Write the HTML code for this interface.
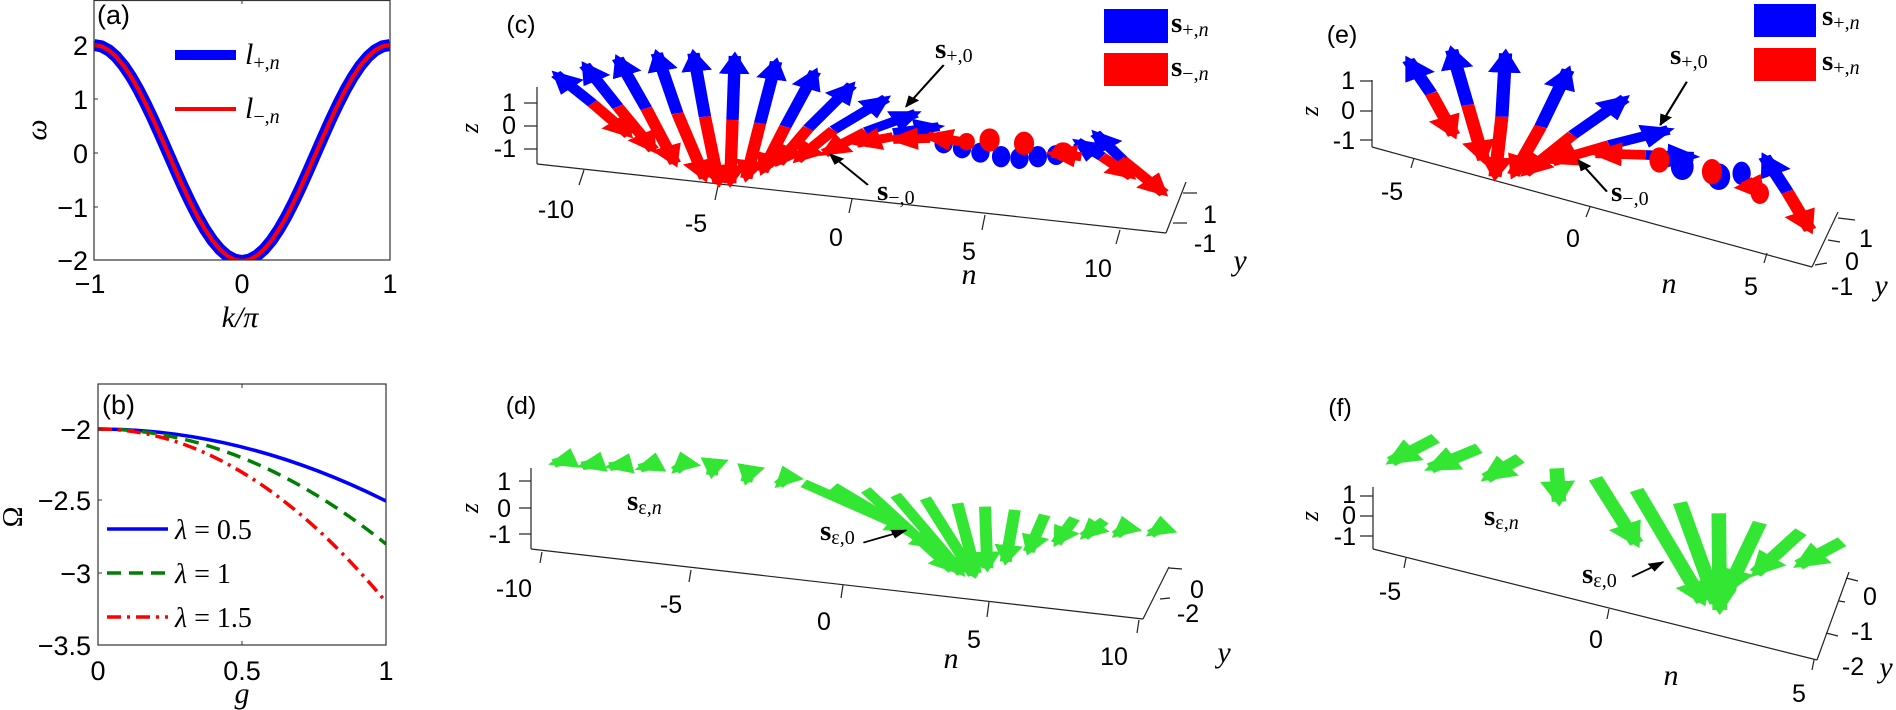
<!DOCTYPE html>
<html><head><meta charset="utf-8"><style>
html,body{margin:0;padding:0;background:#fff;}
svg{display:block;}
.tk{font-family:"Liberation Sans",sans-serif;font-size:27px;fill:#000;}
.tk3{font-family:"Liberation Sans",sans-serif;font-size:25px;fill:#000;}
.it{font-family:"Liberation Serif",serif;font-style:italic;fill:#000;}
.sv{font-family:"Liberation Serif",serif;fill:#000;}
</style></head><body>
<svg width="1896" height="710" viewBox="0 0 1896 710" xmlns="http://www.w3.org/2000/svg">
<defs>
<marker id="hb" viewBox="0 0 10 10" refX="8" refY="5" markerWidth="2.5" markerHeight="2.5" orient="auto"><path d="M0,0 L10,5 L0,10z" fill="#0000ff"/></marker>
<marker id="hr" viewBox="0 0 10 10" refX="8" refY="5" markerWidth="2.5" markerHeight="2.5" orient="auto"><path d="M0,0 L10,5 L0,10z" fill="#ff0000"/></marker>
<marker id="hg" viewBox="0 0 10 10" refX="8" refY="5" markerWidth="2.4" markerHeight="2.4" orient="auto"><path d="M0,0 L10,5 L0,10z" fill="#33e633"/></marker>
<marker id="hk" viewBox="0 0 10 10" refX="9" refY="5" markerWidth="7" markerHeight="7" orient="auto"><path d="M0,1 L10,5 L0,9z" fill="#000"/></marker>
<clipPath id="ca"><rect x="94" y="0" width="296" height="260"/></clipPath>
<clipPath id="cb"><rect x="98" y="384" width="288" height="261"/></clipPath>
</defs>

<!-- Panel (a) -->
<g clip-path="url(#ca)" fill="none" stroke-linejoin="round">
<polyline stroke="#0000ff" stroke-width="12" points="94,45 101.4,46.3 108.8,50.3 116.2,56.8 123.6,65.6 131,76.6 138.4,89.5 145.8,104 153.2,119.6 160.6,136.1 168,153 175.4,169.9 182.8,186.4 190.2,202 197.6,216.5 205,229.4 212.4,240.4 219.8,249.2 227.2,255.7 234.6,259.7 242,261 249.4,259.7 256.8,255.7 264.2,249.2 271.6,240.4 279,229.4 286.4,216.5 293.8,202 301.2,186.4 308.6,169.9 316,153 323.4,136.1 330.8,119.6 338.2,104 345.6,89.5 353,76.6 360.4,65.6 367.8,56.8 375.2,50.3 382.6,46.3 390,45"/>
<polyline stroke="#ff0000" stroke-width="4" points="94,45 101.4,46.3 108.8,50.3 116.2,56.8 123.6,65.6 131,76.6 138.4,89.5 145.8,104 153.2,119.6 160.6,136.1 168,153 175.4,169.9 182.8,186.4 190.2,202 197.6,216.5 205,229.4 212.4,240.4 219.8,249.2 227.2,255.7 234.6,259.7 242,261 249.4,259.7 256.8,255.7 264.2,249.2 271.6,240.4 279,229.4 286.4,216.5 293.8,202 301.2,186.4 308.6,169.9 316,153 323.4,136.1 330.8,119.6 338.2,104 345.6,89.5 353,76.6 360.4,65.6 367.8,56.8 375.2,50.3 382.6,46.3 390,45"/>
</g>
<rect x="94" y="0.5" width="296" height="259.5" fill="none" stroke="#333" stroke-width="1.2"/>
<g stroke="#333" stroke-width="1">
<line x1="94" y1="45" x2="98" y2="45"/><line x1="94" y1="99" x2="98" y2="99"/><line x1="94" y1="153" x2="98" y2="153"/><line x1="94" y1="207" x2="98" y2="207"/>
<line x1="242" y1="260" x2="242" y2="256"/><line x1="242" y1="0" x2="242" y2="4"/>
</g>
<text class="tk" x="97" y="24">(a)</text>
<g class="tk" text-anchor="end">
<text x="88" y="55">2</text><text x="88" y="109">1</text><text x="88" y="163">0</text><text x="88" y="217">−1</text><text x="88" y="270">−2</text>
</g>
<g class="tk" text-anchor="middle"><text x="90" y="293">−1</text><text x="242" y="293">0</text><text x="390" y="293">1</text></g>
<text class="it" font-size="30" x="240" y="327" text-anchor="middle">k/π</text>
<text class="it" font-size="30" transform="translate(46,130) rotate(-90)" text-anchor="middle">ω</text>
<line x1="175" y1="55" x2="236" y2="55" stroke="#0000ff" stroke-width="10"/>
<line x1="175" y1="109" x2="236" y2="109" stroke="#ff0000" stroke-width="4"/>
<text class="it" font-size="30" x="245" y="64">l<tspan font-size="20" dy="5" font-style="normal">+,</tspan><tspan font-size="20">n</tspan></text>
<text class="it" font-size="30" x="245" y="118">l<tspan font-size="20" dy="5" font-style="normal">−,</tspan><tspan font-size="20">n</tspan></text>

<!-- Panel (b) -->
<g clip-path="url(#cb)" fill="none" stroke-width="3.5">
<path d="M98,429 Q242,429 386,501" stroke="#0000ff"/>
<path d="M98,429 Q242,429 386,544" stroke="#008000" stroke-dasharray="14,8"/>
<path d="M98,429 Q242,429 386,602" stroke="#ff0000" stroke-dasharray="14,6,3,6"/>
</g>
<rect x="98" y="384" width="288" height="261" fill="none" stroke="#333" stroke-width="1.2"/>
<g stroke="#333" stroke-width="1">
<line x1="98" y1="429" x2="102" y2="429"/><line x1="98" y1="500" x2="102" y2="500"/><line x1="98" y1="573" x2="102" y2="573"/>
<line x1="242" y1="645" x2="242" y2="641"/><line x1="242" y1="384" x2="242" y2="388"/>
</g>
<text class="tk" x="102" y="414">(b)</text>
<g class="tk" text-anchor="end">
<text x="91" y="439">−2</text><text x="91" y="510">−2.5</text><text x="91" y="583">−3</text><text x="91" y="655">−3.5</text>
</g>
<g class="tk" text-anchor="middle"><text x="98" y="680">0</text><text x="242" y="680">0.5</text><text x="386" y="680">1</text></g>
<text class="it" font-size="30" x="242" y="703" text-anchor="middle">g</text>
<text class="sv" font-size="28" transform="translate(22,517) rotate(-90)" text-anchor="middle">Ω</text>
<line x1="107" y1="529" x2="168" y2="529" stroke="#0000ff" stroke-width="3.5"/>
<line x1="107" y1="573" x2="168" y2="573" stroke="#008000" stroke-width="3.5" stroke-dasharray="14,8"/>
<line x1="107" y1="617" x2="168" y2="617" stroke="#ff0000" stroke-width="3.5" stroke-dasharray="14,6,3,6"/>
<text class="sv" font-size="28" x="175" y="539"><tspan font-style="italic">λ</tspan> = 0.5</text>
<text class="sv" font-size="28" x="175" y="583"><tspan font-style="italic">λ</tspan> = 1</text>
<text class="sv" font-size="28" x="175" y="627"><tspan font-style="italic">λ</tspan> = 1.5</text>

<!-- Panel (c) axes -->
<g stroke="#222" stroke-width="1.2" fill="none">
<line x1="537" y1="87" x2="537" y2="164"/>
<line x1="524" y1="103" x2="537" y2="103"/><line x1="524" y1="126" x2="537" y2="126"/><line x1="524" y1="149" x2="537" y2="149"/>
<line x1="537" y1="164" x2="1166" y2="233"/>
<line x1="1166" y1="233" x2="1186" y2="182"/>
<line x1="1173" y1="223" x2="1187" y2="223"/><line x1="1183" y1="193" x2="1197" y2="193"/>
<line x1="579" y1="185" x2="584" y2="170"/><line x1="715" y1="200" x2="718" y2="186"/><line x1="849" y1="213" x2="852" y2="199"/><line x1="982" y1="230" x2="985" y2="215"/><line x1="1116" y1="244" x2="1120" y2="230"/>
</g>
<text class="tk3" x="521" y="33" font-size="22" text-anchor="middle">(c)</text>
<g class="tk3" text-anchor="end"><text x="516" y="111">1</text><text x="516" y="134">0</text><text x="516" y="157">-1</text></g>
<text class="it" font-size="26" transform="translate(478,128) rotate(-90)" text-anchor="middle">z</text>
<g class="tk3" text-anchor="middle"><text x="556" y="218">-10</text><text x="696" y="232">-5</text><text x="836" y="246">0</text><text x="969" y="260">5</text><text x="1098" y="277">10</text><text x="1210" y="223">1</text><text x="1205" y="252">-1</text></g>
<text class="it" font-size="30" x="969" y="284" text-anchor="middle">n</text>
<text class="it" font-size="30" x="1240" y="270" text-anchor="middle">y</text>
<rect x="1104" y="9" width="64" height="34" fill="#0000ff"/>
<rect x="1104" y="53" width="64" height="33" fill="#ff0000"/>
<text class="sv" font-size="29" font-weight="bold" x="1171" y="32">s<tspan font-size="20" font-weight="normal" dy="4">+,</tspan><tspan font-size="20" font-weight="normal" font-style="italic">n</tspan></text>
<text class="sv" font-size="29" font-weight="bold" x="1171" y="76">s<tspan font-size="20" font-weight="normal" dy="4">−,</tspan><tspan font-size="20" font-weight="normal" font-style="italic">n</tspan></text>
<text class="sv" font-size="29" font-weight="bold" x="935" y="58">s<tspan font-size="20" font-weight="normal" dy="4">+,0</tspan></text>
<text class="sv" font-size="29" font-weight="bold" x="877" y="200">s<tspan font-size="20" font-weight="normal" dy="4">−,0</tspan></text>

<g transform="translate(480,0) scale(0.4591,0.3333)" fill="none" stroke-width="27">
<g stroke="#0000ff" marker-end="url(#hb)">
<line x1="245" y1="310" x2="165" y2="222"/><line x1="300" y1="320" x2="228" y2="195"/><line x1="362" y1="325" x2="300" y2="175"/><line x1="430" y1="340" x2="385" y2="160"/><line x1="490" y1="350" x2="465" y2="160"/><line x1="550" y1="360" x2="555" y2="168"/><line x1="610" y1="370" x2="645" y2="185"/><line x1="665" y1="380" x2="730" y2="215"/><line x1="715" y1="385" x2="810" y2="255"/><line x1="770" y1="390" x2="885" y2="295"/><line x1="840" y1="395" x2="950" y2="340"/><line x1="900" y1="398" x2="1000" y2="380"/>
<line x1="1355" y1="470" x2="1300" y2="425"/><line x1="1400" y1="480" x2="1340" y2="400"/>
</g>
<g fill="#0000ff" stroke="none">
<ellipse cx="1050" cy="445" rx="20" ry="30"/><ellipse cx="1090" cy="458" rx="20" ry="30"/><ellipse cx="1135" cy="470" rx="20" ry="32"/><ellipse cx="1175" cy="475" rx="20" ry="32"/><ellipse cx="1215" cy="470" rx="20" ry="32"/><ellipse cx="1255" cy="465" rx="20" ry="30"/><ellipse cx="1010" cy="430" rx="20" ry="30"/>
</g>
<g stroke="#ff0000" marker-end="url(#hr)">
<line x1="245" y1="310" x2="325" y2="405"/><line x1="300" y1="320" x2="378" y2="450"/><line x1="362" y1="325" x2="425" y2="490"/><line x1="430" y1="340" x2="490" y2="535"/><line x1="490" y1="350" x2="520" y2="550"/><line x1="550" y1="360" x2="545" y2="550"/><line x1="610" y1="370" x2="580" y2="535"/><line x1="665" y1="380" x2="615" y2="515"/><line x1="715" y1="385" x2="650" y2="490"/><line x1="770" y1="390" x2="690" y2="480"/><line x1="840" y1="395" x2="750" y2="460"/><line x1="900" y1="410" x2="820" y2="430"/>
<line x1="980" y1="415" x2="900" y2="418"/><line x1="1050" y1="425" x2="975" y2="408"/><line x1="1310" y1="470" x2="1245" y2="460"/>
<line x1="1355" y1="470" x2="1420" y2="530"/><line x1="1400" y1="480" x2="1490" y2="580"/>
</g>
<g fill="#ff0000" stroke="none">
<ellipse cx="1110" cy="420" rx="22" ry="35"/><ellipse cx="1185" cy="430" rx="22" ry="35"/><ellipse cx="1270" cy="455" rx="22" ry="28"/><ellipse cx="1060" cy="425" rx="18" ry="26"/>
</g>
<g stroke="#000" stroke-width="5" marker-end="url(#hk)">
<line x1="1010" y1="195" x2="928" y2="320"/><line x1="845" y1="555" x2="762" y2="462"/>
</g>
</g>

<!-- Panel (e) axes -->
<g stroke="#222" stroke-width="1.2" fill="none">
<line x1="1372" y1="80" x2="1372" y2="147"/>
<line x1="1360" y1="81" x2="1372" y2="81"/><line x1="1360" y1="111" x2="1372" y2="111"/><line x1="1360" y1="140" x2="1372" y2="140"/>
<line x1="1372" y1="147" x2="1812" y2="267"/>
<line x1="1812" y1="267" x2="1838" y2="212"/>
<line x1="1815" y1="265" x2="1827" y2="263"/><line x1="1828" y1="240" x2="1840" y2="242"/><line x1="1838" y1="218" x2="1855" y2="220"/>
<line x1="1411" y1="168" x2="1414" y2="158"/><line x1="1586" y1="217" x2="1590" y2="207"/><line x1="1764" y1="263" x2="1767" y2="253"/>
</g>
<text class="tk3" x="1342" y="43" font-size="22" text-anchor="middle">(e)</text>
<g class="tk3" text-anchor="end"><text x="1355" y="89">1</text><text x="1355" y="119">0</text><text x="1355" y="149">-1</text></g>
<text class="it" font-size="26" transform="translate(1318,111) rotate(-90)" text-anchor="middle">z</text>
<g class="tk3" text-anchor="middle"><text x="1392" y="200">-5</text><text x="1573" y="247">0</text><text x="1751" y="295">5</text><text x="1866" y="247">1</text><text x="1852" y="270">0</text><text x="1842" y="295">-1</text></g>
<text class="it" font-size="30" x="1669" y="293" text-anchor="middle">n</text>
<text class="it" font-size="30" x="1881" y="295" text-anchor="middle">y</text>
<rect x="1754" y="4" width="62" height="33" fill="#0000ff"/>
<rect x="1754" y="48" width="62" height="33" fill="#ff0000"/>
<text class="sv" font-size="29" font-weight="bold" x="1822" y="25">s<tspan font-size="20" font-weight="normal" dy="4">+,</tspan><tspan font-size="20" font-weight="normal" font-style="italic">n</tspan></text>
<text class="sv" font-size="29" font-weight="bold" x="1822" y="70">s<tspan font-size="20" font-weight="normal" dy="4">+,</tspan><tspan font-size="20" font-weight="normal" font-style="italic">n</tspan></text>
<text class="sv" font-size="29" font-weight="bold" x="1670" y="64">s<tspan font-size="20" font-weight="normal" dy="4">+,0</tspan></text>
<text class="sv" font-size="29" font-weight="bold" x="1611" y="201">s<tspan font-size="20" font-weight="normal" dy="4">−,0</tspan></text>

<g transform="translate(1180,0) scale(0.4566,0.3333)" fill="none" stroke-width="29">
<g stroke="#0000ff" marker-end="url(#hb)">
<line x1="550" y1="280" x2="500" y2="180"/><line x1="630" y1="315" x2="595" y2="150"/><line x1="705" y1="350" x2="713" y2="160"/><line x1="790" y1="380" x2="850" y2="210"/><line x1="860" y1="405" x2="975" y2="295"/><line x1="940" y1="435" x2="1070" y2="390"/><line x1="1020" y1="465" x2="1125" y2="470"/>
<line x1="1330" y1="575" x2="1280" y2="470"/>
</g>
<g fill="#0000ff" stroke="none">
<ellipse cx="1100" cy="500" rx="25" ry="40"/><ellipse cx="1180" cy="530" rx="25" ry="40"/><ellipse cx="1230" cy="520" rx="20" ry="35"/>
</g>
<g stroke="#ff0000" marker-end="url(#hr)">
<line x1="550" y1="280" x2="600" y2="405"/><line x1="630" y1="315" x2="665" y2="480"/><line x1="705" y1="350" x2="690" y2="530"/><line x1="790" y1="380" x2="730" y2="525"/><line x1="860" y1="405" x2="755" y2="520"/><line x1="940" y1="435" x2="815" y2="485"/><line x1="1020" y1="465" x2="910" y2="460"/>
<line x1="1330" y1="575" x2="1380" y2="690"/><line x1="1240" y1="540" x2="1275" y2="590"/>
</g>
<g fill="#ff0000" stroke="none">
<ellipse cx="1050" cy="480" rx="22" ry="38"/><ellipse cx="1165" cy="515" rx="22" ry="38"/><ellipse cx="1270" cy="580" rx="20" ry="32"/>
</g>
<g stroke="#000" stroke-width="5" marker-end="url(#hk)">
<line x1="1110" y1="245" x2="1052" y2="375"/><line x1="935" y1="575" x2="872" y2="480"/>
</g>
</g>

<!-- Panel (d) axes -->
<g stroke="#222" stroke-width="1.2" fill="none">
<line x1="531" y1="468" x2="531" y2="549"/>
<line x1="519" y1="481" x2="531" y2="481"/><line x1="519" y1="508" x2="531" y2="508"/><line x1="519" y1="534" x2="531" y2="534"/>
<line x1="531" y1="549" x2="1143" y2="619"/>
<line x1="1143" y1="619" x2="1169" y2="567"/>
<line x1="1160" y1="599" x2="1170" y2="598"/><line x1="1169" y1="568" x2="1182" y2="569"/>
<line x1="542" y1="552" x2="540" y2="563"/><line x1="691" y1="570" x2="689" y2="582"/><line x1="843" y1="585" x2="841" y2="598"/><line x1="989" y1="602" x2="987" y2="617"/><line x1="1139" y1="620" x2="1137" y2="633"/>
</g>
<text class="tk3" x="521" y="414" font-size="22" text-anchor="middle">(d)</text>
<g class="tk3" text-anchor="end"><text x="511" y="490">1</text><text x="511" y="517">0</text><text x="511" y="543">-1</text></g>
<text class="it" font-size="26" transform="translate(478,508) rotate(-90)" text-anchor="middle">z</text>
<g class="tk3" text-anchor="middle"><text x="514" y="597">-10</text><text x="671" y="613">-5</text><text x="824" y="630">0</text><text x="974" y="648">5</text><text x="1114" y="665">10</text><text x="1197" y="598">0</text><text x="1188" y="622">-2</text></g>
<text class="it" font-size="30" x="951" y="668" text-anchor="middle">n</text>
<text class="it" font-size="30" x="1224" y="662" text-anchor="middle">y</text>
<text class="sv" font-size="29" font-weight="bold" x="627" y="510">s<tspan font-size="20" font-weight="normal" dy="4">ε,</tspan><tspan font-size="20" font-weight="normal" font-style="italic">n</tspan></text>
<text class="sv" font-size="29" font-weight="bold" x="820" y="540">s<tspan font-size="20" font-weight="normal" dy="4">ε,0</tspan></text>

<g transform="translate(480,350) scale(0.4591,0.3333)" fill="none" stroke-width="26" stroke="#33e633" marker-end="url(#hg)">
<line x1="195" y1="328" x2="160" y2="340"/><line x1="260" y1="338" x2="222" y2="348"/><line x1="322" y1="342" x2="282" y2="350"/><line x1="385" y1="340" x2="348" y2="355"/><line x1="450" y1="335" x2="425" y2="362"/><line x1="510" y1="335" x2="505" y2="375"/><line x1="590" y1="350" x2="580" y2="395"/><line x1="680" y1="370" x2="650" y2="405"/>
<line x1="705" y1="400" x2="935" y2="540"/><line x1="770" y1="410" x2="990" y2="590"/><line x1="840" y1="420" x2="1030" y2="660"/><line x1="905" y1="435" x2="1050" y2="670"/><line x1="970" y1="445" x2="1075" y2="675"/><line x1="1040" y1="460" x2="1080" y2="670"/><line x1="1100" y1="470" x2="1105" y2="655"/><line x1="1165" y1="480" x2="1145" y2="635"/><line x1="1230" y1="495" x2="1195" y2="605"/><line x1="1295" y1="505" x2="1255" y2="580"/><line x1="1360" y1="512" x2="1315" y2="560"/><line x1="1420" y1="520" x2="1385" y2="555"/><line x1="1490" y1="530" x2="1460" y2="552"/>
<line x1="835" y1="578" x2="928" y2="541" stroke="#000" stroke-width="5" marker-end="url(#hk)"/>
</g>

<!-- Panel (f) axes -->
<g stroke="#222" stroke-width="1.2" fill="none">
<line x1="1373" y1="487" x2="1373" y2="549"/>
<line x1="1360" y1="496" x2="1373" y2="496"/><line x1="1360" y1="516" x2="1373" y2="516"/><line x1="1360" y1="536" x2="1373" y2="536"/>
<line x1="1373" y1="549" x2="1817" y2="660"/>
<line x1="1817" y1="660" x2="1849" y2="572"/>
<line x1="1826" y1="633" x2="1838" y2="636"/><line x1="1839" y1="601" x2="1845" y2="602"/><line x1="1846" y1="578" x2="1858" y2="581"/>
<line x1="1406" y1="558" x2="1404" y2="568"/><line x1="1609" y1="609" x2="1607" y2="619"/><line x1="1814" y1="660" x2="1812" y2="670"/>
</g>
<text class="tk3" x="1340" y="416" font-size="22" text-anchor="middle">(f)</text>
<g class="tk3" text-anchor="end"><text x="1356" y="503">1</text><text x="1356" y="524">0</text><text x="1356" y="545">-1</text></g>
<text class="it" font-size="26" transform="translate(1318,516) rotate(-90)" text-anchor="middle">z</text>
<g class="tk3" text-anchor="middle"><text x="1390" y="600">-5</text><text x="1596" y="648">0</text><text x="1799" y="702">5</text><text x="1870" y="605">0</text><text x="1862" y="640">-1</text><text x="1853" y="675">-2</text></g>
<text class="it" font-size="30" x="1671" y="685" text-anchor="middle">n</text>
<text class="it" font-size="30" x="1886" y="677" text-anchor="middle">y</text>
<text class="sv" font-size="29" font-weight="bold" x="1484" y="525">s<tspan font-size="20" font-weight="normal" dy="4">ε,</tspan><tspan font-size="20" font-weight="normal" font-style="italic">n</tspan></text>
<text class="sv" font-size="29" font-weight="bold" x="1582" y="583">s<tspan font-size="20" font-weight="normal" dy="4">ε,0</tspan></text>

<g transform="translate(1180,350) scale(0.4566,0.3333)" fill="none" stroke-width="32" stroke="#33e633" marker-end="url(#hg)">
<line x1="560" y1="265" x2="462" y2="335"/><line x1="655" y1="295" x2="548" y2="355"/><line x1="745" y1="325" x2="670" y2="385"/><line x1="825" y1="355" x2="830" y2="455"/>
<line x1="910" y1="385" x2="1000" y2="580"/><line x1="1000" y1="420" x2="1145" y2="755"/><line x1="1095" y1="458" x2="1175" y2="760"/><line x1="1180" y1="490" x2="1182" y2="780"/><line x1="1270" y1="518" x2="1200" y2="720"/><line x1="1360" y1="545" x2="1260" y2="670"/><line x1="1450" y1="575" x2="1355" y2="645"/>
<line x1="990" y1="680" x2="1058" y2="636" stroke="#000" stroke-width="5" marker-end="url(#hk)"/>
</g>
</svg>
</body></html>
